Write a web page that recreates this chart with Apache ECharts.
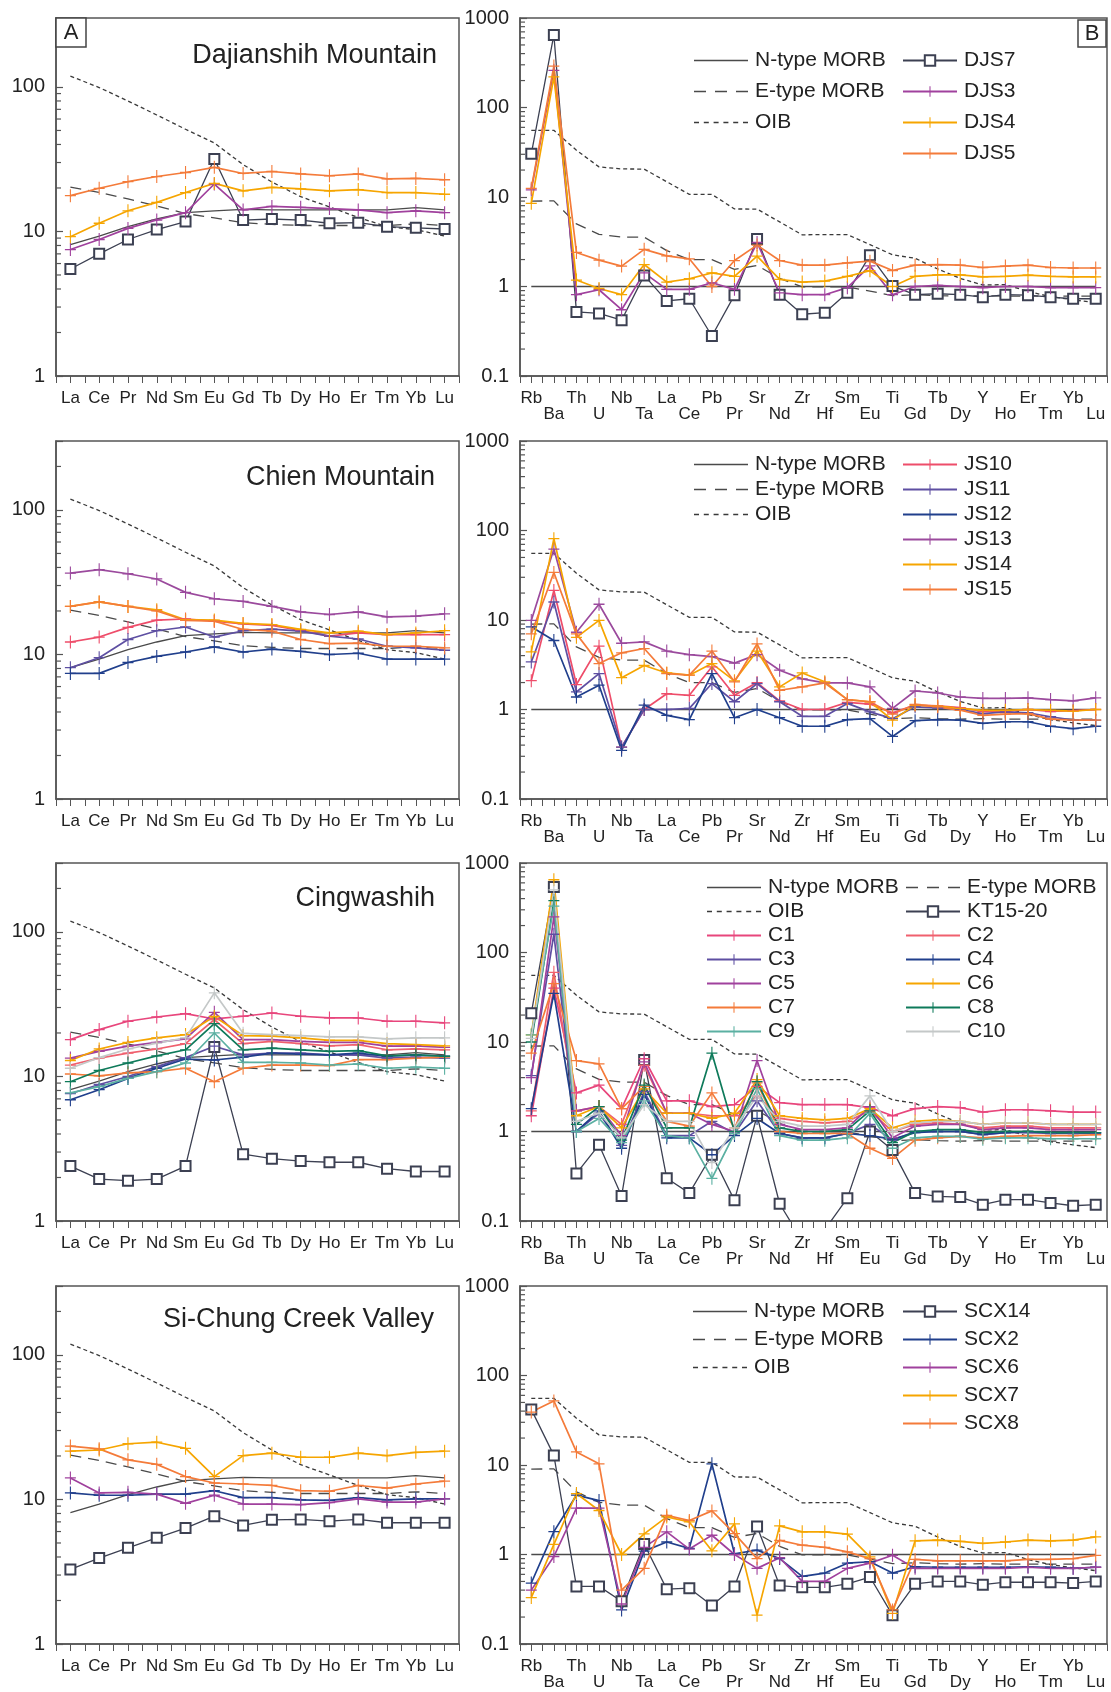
<!DOCTYPE html>
<html>
<head>
<meta charset="utf-8">
<style>
html, body { margin: 0; padding: 0; background: #fff; }
#chart { width: 1111px; height: 1692px; }
</style>
<script src="https://cdn.jsdelivr.net/npm/echarts@6/dist/echarts.min.js"></script>
</head>
<body>
<div id="chart"></div>
<script>
// ---- Element order on the two kinds of diagram ----
const REE = ['La','Ce','Pr','Nd','Sm','Eu','Gd','Tb','Dy','Ho','Er','Tm','Yb','Lu'];
const SPIDER = ['Rb','Ba','Th','U','Nb','Ta','La','Ce','Pb','Pr','Sr','Nd','Zr','Hf','Sm','Eu','Ti','Gd','Tb','Dy','Y','Ho','Er','Tm','Yb','Lu'];

// ---- Reference patterns, chondrite-normalised (REE) ----
const REE_NMORB = [8.1, 9.3, 10.8, 12.2, 13.5, 13.9, 14.2, 14.1, 14.1, 14.1, 14.1, 14.1, 14.6, 14.1];
const REE_EMORB = [20.3, 18.6, 16.8, 15.0, 13.3, 12.4, 11.5, 11.2, 11.0, 11.0, 11.0, 11.0, 11.3, 11.0];
const REE_OIB   = [119, 99, 80, 64, 51, 41, 29, 22, 17.4, 14.8, 12.5, 10.8, 10.3, 9.3];

// ---- Reference patterns, N-MORB-normalised (multi-element) ----
const SP_NMORB = [1,1,1,1,1,1,1,1,1,1,1,1,1,1,1,1,1,1,1,1,1,1,1,1,1,1];
const SP_EMORB = [9.0, 9.05, 5.0, 3.83, 3.56, 3.56, 2.52, 2.0, 2.0, 1.55, 1.72, 1.23, 0.99, 0.99, 0.99, 0.89, 0.79, 0.81, 0.79, 0.78, 0.79, 0.78, 0.78, 0.78, 0.78, 0.78];
const SP_OIB   = [55.4, 55.6, 33.3, 21.7, 20.6, 20.5, 14.8, 10.7, 10.7, 7.35, 7.33, 5.27, 3.78, 3.80, 3.80, 2.94, 2.26, 2.07, 1.57, 1.23, 1.04, 1.05, 0.88, 0.77, 0.71, 0.66];

// ---- Dajianshih Mountain ----
const DJS7_REE = [5.5, 7.0, 8.8, 10.3, 11.7, 31.7, 12.0, 12.2, 12.0, 11.4, 11.5, 10.8, 10.6, 10.4];
const DJS3_REE = [7.5, 8.8, 10.5, 12.0, 13.5, 21.3, 14.1, 14.9, 14.7, 14.4, 14.1, 13.5, 13.9, 13.5];
const DJS4_REE = [9.2, 11.4, 13.9, 15.9, 18.6, 21.5, 19.1, 20.2, 19.7, 19.1, 19.5, 18.6, 18.6, 18.1];
const DJS5_REE = [17.7, 19.9, 22.1, 24.0, 25.6, 27.8, 25.2, 26.0, 25.0, 24.3, 25.0, 23.1, 23.3, 22.8];
const DJS7_SP = [30.4, 646, 0.52, 0.50, 0.42, 1.33, 0.69, 0.73, 0.28, 0.80, 3.4, 0.81, 0.49, 0.51, 0.85, 2.23, 1.01, 0.81, 0.83, 0.81, 0.76, 0.81, 0.80, 0.76, 0.73, 0.73];
const DJS3_SP = [12, 260, 0.81, 0.92, 0.55, 1.42, 0.93, 0.93, 1.1, 0.93, 3.1, 0.85, 0.81, 0.81, 0.97, 1.7, 0.81, 1.0, 1.03, 1.0, 0.97, 1.0, 1.0, 0.97, 0.97, 0.97];
const DJS4_SP = [8.5, 220, 1.18, 0.95, 0.81, 1.76, 1.12, 1.22, 1.42, 1.30, 2.18, 1.2, 1.12, 1.15, 1.30, 1.5, 1.0, 1.30, 1.35, 1.35, 1.28, 1.30, 1.34, 1.30, 1.28, 1.28];
const DJS5_SP = [12.5, 290, 2.4, 1.97, 1.69, 2.6, 2.2, 2.04, 1.0, 1.95, 2.9, 1.95, 1.73, 1.73, 1.84, 1.92, 1.51, 1.73, 1.76, 1.73, 1.63, 1.69, 1.73, 1.63, 1.61, 1.61];

// ---- Chien Mountain ----
const JS10_REE = [12.2, 13.2, 15.4, 17.3, 17.6, 17.0, 16.3, 15.9, 14.7, 13.4, 14.1, 13.7, 13.7, 13.7];
const JS11_REE = [8.1, 9.5, 12.7, 14.6, 15.5, 13.2, 14.6, 15.0, 14.5, 13.4, 12.8, 11.4, 11.1, 10.7];
const JS12_REE = [7.4, 7.4, 8.8, 9.7, 10.4, 11.3, 10.4, 10.9, 10.5, 10.0, 10.2, 9.3, 9.3, 9.3];
const JS13_REE = [36.6, 38.6, 36.2, 33.3, 26.9, 24.3, 23.3, 21.5, 19.7, 18.9, 19.7, 18.2, 18.4, 19.1];
const JS14_REE = [21.5, 23.1, 21.5, 20.4, 17.4, 17.3, 16.4, 16.1, 14.9, 14.1, 14.5, 13.7, 14.1, 14.6];
const JS15_REE = [21.5, 23.1, 21.5, 20.0, 17.2, 17.0, 14.9, 14.5, 12.7, 11.9, 12.0, 11.4, 11.4, 11.1];
const JS10_SP = [2.1, 21.4, 1.9, 5.1, 0.38, 1.0, 1.5, 1.44, 3.0, 1.44, 2.0, 1.25, 1.0, 1.0, 1.2, 1.15, 0.92, 1.12, 1.1, 1.05, 0.95, 0.95, 1.0, 0.95, 0.97, 1.0];
const JS11_SP = [3.4, 15.9, 1.57, 2.52, 0.38, 1.0, 1.0, 1.03, 1.95, 1.22, 1.95, 1.22, 0.84, 0.84, 1.17, 0.94, 0.79, 1.07, 1.04, 1.0, 0.90, 0.94, 0.92, 0.83, 0.76, 0.76];
const JS12_SP = [8.4, 5.9, 1.38, 1.87, 0.35, 1.12, 0.86, 0.77, 2.52, 0.81, 1.0, 0.81, 0.65, 0.65, 0.77, 0.79, 0.50, 0.75, 0.77, 0.76, 0.70, 0.73, 0.73, 0.65, 0.61, 0.65];
const JS13_SP = [9.9, 62, 7.3, 15.0, 5.5, 5.7, 4.5, 4.1, 3.9, 3.3, 4.1, 2.75, 2.2, 1.98, 1.98, 1.79, 1.03, 1.61, 1.53, 1.38, 1.33, 1.33, 1.35, 1.29, 1.25, 1.35];
const JS14_SP = [4.4, 81, 6.4, 9.9, 2.27, 3.1, 2.56, 2.42, 3.26, 2.09, 4.5, 1.79, 2.56, 2.04, 1.29, 1.22, 0.76, 1.12, 1.09, 1.03, 0.98, 0.98, 1.0, 0.98, 0.96, 1.0];
const JS15_SP = [7.0, 34, 7.0, 3.26, 4.3, 4.8, 2.52, 2.42, 4.5, 2.04, 5.4, 1.64, 1.79, 1.98, 1.29, 1.22, 0.89, 1.14, 1.07, 0.98, 0.86, 0.89, 0.9, 0.78, 0.76, 0.76];

// ---- Cingwashih ----
const KT1520_REE = [2.4, 1.95, 1.9, 1.95, 2.4, 16, 2.9, 2.7, 2.6, 2.55, 2.55, 2.3, 2.2, 2.2];
const C1_REE  = [18.0, 21.1, 24.1, 25.8, 27.2, 25.0, 26.1, 27.5, 26.1, 25.4, 25.4, 24.1, 24.1, 23.5];
const C2_REE  = [12.0, 13.4, 14.5, 15.5, 16.9, 24.7, 16.9, 17.5, 16.9, 16.3, 16.6, 15.3, 15.5, 15.3];
const C3_REE  = [7.6, 8.8, 10.0, 11.7, 13.5, 16.2, 14.1, 14.5, 14.5, 14.1, 14.1, 13.4, 13.6, 13.4];
const C4_REE  = [6.9, 8.1, 9.7, 11.4, 13.2, 13.0, 13.6, 14.5, 14.3, 14.1, 14.5, 13.8, 14.1, 13.8];
const C5_REE  = [13.4, 14.9, 16.2, 17.2, 18.2, 27.8, 18.0, 18.0, 17.5, 17.2, 17.2, 16.2, 16.3, 15.9];
const C6_REE  = [12.9, 15.5, 17.2, 18.5, 19.5, 26.0, 19.2, 19.0, 18.5, 17.8, 17.8, 16.9, 16.6, 16.3];
const C7_REE  = [10.4, 10.1, 10.6, 10.8, 11.4, 9.2, 11.4, 12.0, 12.0, 11.9, 13.1, 13.1, 13.4, 13.6];
const C8_REE  = [9.2, 11.0, 12.4, 13.9, 15.3, 23.2, 15.3, 15.7, 15.3, 14.9, 15.1, 13.9, 14.1, 13.8];
const C9_REE  = [7.7, 8.5, 9.7, 10.8, 12.4, 20.0, 12.5, 12.5, 12.4, 12.0, 12.2, 11.4, 11.6, 11.4];
const C10_REE = [11.4, 13.5, 15.5, 17.0, 18.5, 37.9, 19.9, 19.5, 19.2, 18.8, 18.8, 18.2, 18.5, 18.5];
const KT1520_SP = [21, 540, 0.34, 0.71, 0.19, 6.3, 0.30, 0.205, 0.55, 0.17, 1.5, 0.156, 0.06, 0.08, 0.18, 1.0, 0.62, 0.205, 0.188, 0.185, 0.152, 0.173, 0.173, 0.159, 0.148, 0.152];
const C1_SP  = [1.5, 40, 2.7, 3.3, 1.8, 6.5, 2.2, 2.2, 1.9, 2.0, 3.2, 2.1, 2.0, 2.0, 2.0, 1.85, 1.5, 1.8, 1.9, 1.85, 1.65, 1.75, 1.75, 1.7, 1.65, 1.65];
const C2_SP  = [1.7, 60, 1.7, 1.9, 1.2, 5.5, 1.6, 1.6, 1.5, 1.5, 2.5, 1.4, 1.3, 1.25, 1.3, 1.7, 1.0, 1.2, 1.25, 1.2, 1.1, 1.15, 1.15, 1.1, 1.1, 1.1];
const C3_SP  = [4.2, 160, 1.0, 1.6, 0.7, 2.8, 0.9, 0.9, 1.3, 0.95, 2.2, 0.95, 0.85, 0.85, 0.95, 1.2, 0.8, 1.0, 1.0, 1.0, 0.92, 0.97, 0.97, 0.95, 0.95, 0.95];
const C4_SP  = [1.8, 35, 1.0, 1.7, 0.65, 2.6, 0.85, 0.85, 0.55, 0.9, 1.4, 0.95, 0.85, 0.85, 0.95, 0.9, 0.82, 0.97, 1.0, 1.0, 0.93, 0.97, 1.0, 0.97, 0.97, 0.97];
const C5_SP  = [4.0, 250, 1.7, 1.9, 0.9, 6.0, 1.6, 1.6, 1.2, 1.0, 6.2, 1.2, 1.05, 1.05, 1.1, 1.9, 0.85, 1.15, 1.2, 1.2, 1.05, 1.1, 1.1, 1.05, 1.05, 1.05];
const C6_SP  = [12, 650, 1.5, 1.9, 1.1, 3.0, 1.6, 1.6, 1.4, 1.6, 3.8, 1.5, 1.4, 1.35, 1.4, 1.8, 1.1, 1.3, 1.35, 1.3, 1.2, 1.25, 1.25, 1.2, 1.2, 1.2];
const C7_SP  = [7.5, 45, 6.2, 5.7, 1.8, 3.2, 1.3, 1.15, 2.7, 1.1, 3.5, 1.0, 0.95, 0.95, 0.95, 0.65, 0.5, 0.8, 0.85, 0.88, 0.85, 0.88, 0.9, 0.9, 0.9, 0.92];
const C8_SP  = [10, 380, 1.2, 1.9, 0.8, 3.3, 1.1, 1.1, 7.5, 1.0, 3.6, 1.1, 1.0, 1.0, 1.05, 1.7, 0.75, 1.0, 1.05, 1.05, 0.97, 1.0, 1.0, 0.97, 0.97, 0.97];
const C9_SP  = [12, 330, 1.0, 1.4, 0.75, 2.2, 0.9, 0.85, 0.3, 0.95, 3.0, 0.9, 0.8, 0.8, 0.85, 1.6, 0.65, 0.85, 0.88, 0.88, 0.82, 0.85, 0.85, 0.83, 0.83, 0.83];
const C10_SP = [11, 500, 1.3, 1.6, 0.85, 2.0, 1.3, 1.3, 0.45, 1.1, 2.5, 1.3, 1.15, 1.15, 1.2, 2.5, 1.0, 1.25, 1.3, 1.3, 1.2, 1.25, 1.25, 1.2, 1.2, 1.2];

// ---- Si-Chung Creek Valley ----
const SCX14_REE = [3.28, 3.93, 4.63, 5.43, 6.34, 7.67, 6.61, 7.23, 7.28, 7.08, 7.28, 6.90, 6.90, 6.90];
const SCX2_REE  = [11.1, 10.7, 10.7, 10.9, 10.9, 11.5, 10.3, 10.3, 9.95, 9.85, 10.3, 9.95, 10.1, 10.1];
const SCX6_REE  = [14.1, 11.1, 11.2, 10.9, 9.4, 10.7, 9.3, 9.3, 9.2, 9.5, 10.1, 9.6, 9.6, 10.1];
const SCX7_REE  = [21.6, 22.0, 24.3, 24.9, 22.6, 14.4, 20.1, 20.9, 19.6, 19.6, 20.9, 20.1, 21.2, 21.6];
const SCX8_REE  = [23.4, 22.4, 18.8, 17.5, 14.4, 13.0, 12.8, 12.5, 11.5, 11.4, 12.5, 12.0, 12.8, 13.4];
const SCX14_SP = [41.8, 12.8, 0.44, 0.44, 0.30, 1.31, 0.41, 0.42, 0.27, 0.44, 2.05, 0.45, 0.43, 0.43, 0.47, 0.56, 0.21, 0.47, 0.50, 0.50, 0.46, 0.49, 0.49, 0.49, 0.48, 0.50];
const SCX2_SP  = [0.48, 1.8, 4.6, 4.0, 0.24, 1.09, 1.38, 1.17, 10.3, 1.02, 1.12, 0.90, 0.57, 0.62, 0.80, 0.83, 0.62, 0.73, 0.72, 0.72, 0.72, 0.72, 0.73, 0.72, 0.70, 0.72];
const SCX6_SP  = [0.40, 0.95, 3.3, 3.3, 0.28, 1.2, 1.79, 1.15, 1.64, 1.0, 0.7, 0.92, 0.5, 0.5, 0.7, 0.8, 0.98, 0.7, 0.7, 0.7, 0.7, 0.7, 0.72, 0.7, 0.7, 0.72];
const SCX7_SP  = [0.33, 1.3, 4.8, 3.1, 1.0, 1.7, 2.63, 2.31, 1.1, 2.2, 0.21, 2.09, 1.79, 1.79, 1.69, 0.94, 0.22, 1.42, 1.45, 1.4, 1.33, 1.38, 1.45, 1.42, 1.45, 1.57];
const SCX8_SP  = [39, 52, 14, 10.3, 0.40, 0.70, 2.74, 2.4, 3.07, 1.71, 0.9, 1.44, 1.27, 1.2, 1.07, 0.9, 0.24, 0.88, 0.85, 0.85, 0.85, 0.85, 0.88, 0.88, 0.9, 0.98];

// ---- Lookup tables ----
const REE_SETS = {
  DJS7: DJS7_REE, DJS3: DJS3_REE, DJS4: DJS4_REE, DJS5: DJS5_REE,
  JS10: JS10_REE, JS11: JS11_REE, JS12: JS12_REE, JS13: JS13_REE, JS14: JS14_REE, JS15: JS15_REE,
  'KT15-20': KT1520_REE, C1: C1_REE, C2: C2_REE, C3: C3_REE, C4: C4_REE, C5: C5_REE,
  C6: C6_REE, C7: C7_REE, C8: C8_REE, C9: C9_REE, C10: C10_REE,
  SCX14: SCX14_REE, SCX2: SCX2_REE, SCX6: SCX6_REE, SCX7: SCX7_REE, SCX8: SCX8_REE
};
const SP_SETS = {
  DJS7: DJS7_SP, DJS3: DJS3_SP, DJS4: DJS4_SP, DJS5: DJS5_SP,
  JS10: JS10_SP, JS11: JS11_SP, JS12: JS12_SP, JS13: JS13_SP, JS14: JS14_SP, JS15: JS15_SP,
  'KT15-20': KT1520_SP, C1: C1_SP, C2: C2_SP, C3: C3_SP, C4: C4_SP, C5: C5_SP,
  C6: C6_SP, C7: C7_SP, C8: C8_SP, C9: C9_SP, C10: C10_SP,
  SCX14: SCX14_SP, SCX2: SCX2_SP, SCX6: SCX6_SP, SCX7: SCX7_SP, SCX8: SCX8_SP
};

const PANEL_TITLES = ['Dajianshih Mountain', 'Chien Mountain', 'Cingwashih', 'Si-Chung Creek Valley'];
const PANEL_SAMPLES = [
  ['DJS7', 'DJS3', 'DJS4', 'DJS5'],
  ['JS10', 'JS11', 'JS12', 'JS13', 'JS14', 'JS15'],
  ['KT15-20', 'C1', 'C2', 'C3', 'C4', 'C5', 'C6', 'C7', 'C8', 'C9', 'C10'],
  ['SCX14', 'SCX2', 'SCX6', 'SCX7', 'SCX8']
];
const LEGEND_COLUMNS = [
  [['N-type MORB', 'E-type MORB', 'OIB'], ['DJS7', 'DJS3', 'DJS4', 'DJS5']],
  [['N-type MORB', 'E-type MORB', 'OIB'], ['JS10', 'JS11', 'JS12', 'JS13', 'JS14', 'JS15']],
  [['N-type MORB', 'OIB', 'C1', 'C3', 'C5', 'C7', 'C9'], ['E-type MORB', 'KT15-20', 'C2', 'C4', 'C6', 'C8', 'C10']],
  [['N-type MORB', 'E-type MORB', 'OIB'], ['SCX14', 'SCX2', 'SCX6', 'SCX7', 'SCX8']]
];

// ---- Styling ----
const FONT = '"Liberation Sans", Arial, Helvetica, sans-serif';
const INK = '#222';
const AXIS = '#555';
const SAMPLE_COLOR = {
  DJS7: '#3c4052', DJS3: '#a0419d', DJS4: '#f6a500', DJS5: '#f47b3a',
  JS10: '#ee4d6a', JS11: '#5e4fa2', JS12: '#203f8c', JS13: '#9b4a9d', JS14: '#f6a500', JS15: '#f47b3a',
  'KT15-20': '#3c4052', C1: '#e8467c', C2: '#f0606e', C3: '#5e4fa2', C4: '#203f8c', C5: '#a0419d',
  C6: '#f6a500', C7: '#f47b3a', C8: '#0e7a5a', C9: '#5bb0a2', C10: '#c4c8c8',
  SCX14: '#3c4052', SCX2: '#203f8c', SCX6: '#a0419d', SCX7: '#f6a500', SCX8: '#f47b3a'
};
const SQUARE_SAMPLES = ['DJS7', 'KT15-20', 'SCX14'];
const PLUS = 'path://M-0.1,-1L0.1,-1L0.1,-0.1L1,-0.1L1,0.1L0.1,0.1L0.1,1L-0.1,1L-0.1,0.1L-1,0.1L-1,-0.1L-0.1,-0.1Z';
const REF_STYLE = {
  'N-type MORB': { type: 'solid', width: 1.3, color: '#4a4a4a' },
  'E-type MORB': { type: [11, 7], width: 1.3, color: '#4a4a4a' },
  'OIB':         { type: [4, 3], width: 1.3, color: '#3a3a3a' }
};
const REF_ICON = {
  'N-type MORB': 'path://M0,0L54,0L54,1.4L0,1.4Z',
  'E-type MORB': 'path://M0,0L12,0L12,1.4L0,1.4Z M21,0L33,0L33,1.4L21,1.4Z M42,0L54,0L54,1.4L42,1.4Z',
  'OIB': 'path://M0,0L5,0L5,1.4L0,1.4Z M9.8,0L14.8,0L14.8,1.4L9.8,1.4Z M19.6,0L24.6,0L24.6,1.4L19.6,1.4Z M29.4,0L34.4,0L34.4,1.4L29.4,1.4Z M39.2,0L44.2,0L44.2,1.4L39.2,1.4Z M49,0L54,0L54,1.4L49,1.4Z'
};

// ---- Layout ----
const ROW_TOP = [18, 441, 863, 1286];
const PLOT_H = 358;
const LEFT_X = 56, LEFT_W = 403;
const RIGHT_X = 520, RIGHT_W = 587;
const TITLE_Y = [56, 478, 899, 1320];
const TITLE_RIGHT = [437, 435, 435, 434];
const LEGEND_TOP = [50, 454, 877, 1301];
const LEGEND_GAP = [10, 4, 3, 7];
const LEGEND_X = [[694, 902], [694, 902], [706, 905], [693, 902]];

function isWhole(v) { return Math.abs(v - Math.round(v)) < 1e-6; }
function decadeLabel(v) {
  const e = Math.log10(v);
  const r = Math.round(e);
  if (Math.abs(e - r) > 1e-6) return '';
  return r < 0 ? '0.1' : String(Math.round(Math.pow(10, r)));
}
function minorValues(lo, hi) {
  const out = [];
  for (let d = lo; d < hi; d *= 10) {
    for (let k = 2; k <= 9; k++) {
      const v = +(k * d).toPrecision(6);
      if (v < hi) out.push(v);
    }
  }
  return out;
}
function pairs(values) { return values.map((v, i) => [i + 1, v]); }

const grids = [], xAxes = [], yAxes = [], series = [], legends = [], graphics = [];

function addPanel(gi, isRee, row) {
  const cats = isRee ? REE : SPIDER;
  const yMin = isRee ? 1 : 0.1, yMax = isRee ? 300 : 1000;
  grids.push({
    left: isRee ? LEFT_X : RIGHT_X, top: ROW_TOP[row],
    width: isRee ? LEFT_W : RIGHT_W, height: PLOT_H,
    show: true, borderColor: AXIS, borderWidth: 1.5, backgroundColor: '#fff',
    containLabel: false, outerBoundsMode: 'none'
  });
  xAxes.push({
    type: 'value', gridIndex: gi, min: 0.5, max: cats.length + 0.5, interval: 0.5,
    axisLine: { show: true, onZero: false, lineStyle: { color: AXIS, width: 1.5 } },
    axisTick: { show: true, inside: false, length: 7, lineStyle: { color: AXIS, width: 1 } },
    splitLine: { show: false },
    axisLabel: {
      show: true, margin: 14, fontSize: 17, lineHeight: 16, color: INK, fontFamily: FONT,
      formatter: function (v) {
        if (!isWhole(v)) return '';
        const i = Math.round(v) - 1;
        if (i < 0 || i >= cats.length) return '';
        if (isRee) return cats[i];
        return i % 2 === 0 ? cats[i] : '\n' + cats[i];
      }
    }
  });
  yAxes.push({
    type: 'log', logBase: 10, gridIndex: gi, min: yMin, max: yMax,
    axisLine: { show: true, onZero: false, lineStyle: { color: AXIS, width: 1.5 } },
    axisTick: { show: true, inside: true, length: 7, lineStyle: { color: AXIS, width: 1.2 } },
    splitLine: { show: false },
    axisLabel: { margin: 11, fontSize: 20, color: INK, fontFamily: FONT, formatter: decadeLabel }
  });

  // minor log ticks along the left axis
  series.push({
    type: 'custom', xAxisIndex: gi, yAxisIndex: gi, silent: true, animation: false, z: 5,
    data: minorValues(yMin, yMax).map(v => [0.5, v]),
    renderItem: function (params, api) {
      const p = api.coord([0.5, api.value(1)]);
      return { type: 'line', shape: { x1: p[0], y1: p[1], x2: p[0] + 5, y2: p[1] },
               style: { stroke: AXIS, lineWidth: 1.2 } };
    }
  });

  // reference patterns
  const refs = isRee
    ? [['N-type MORB', REE_NMORB], ['E-type MORB', REE_EMORB], ['OIB', REE_OIB]]
    : [['N-type MORB', SP_NMORB], ['E-type MORB', SP_EMORB], ['OIB', SP_OIB]];
  refs.forEach(([name, vals]) => {
    const st = REF_STYLE[name];
    series.push({
      type: 'line', name: name, xAxisIndex: gi, yAxisIndex: gi,
      data: pairs(vals), symbol: 'none', animation: false, silent: true, z: 2,
      lineStyle: { color: st.color, width: (!isRee && name === 'N-type MORB') ? 1.6 : st.width, type: st.type },
      itemStyle: { color: st.color }
    });
  });

  // samples
  PANEL_SAMPLES[row].forEach(name => {
    const color = SAMPLE_COLOR[name];
    const square = SQUARE_SAMPLES.includes(name);
    series.push({
      type: 'line', name: name, xAxisIndex: gi, yAxisIndex: gi,
      data: pairs(isRee ? REE_SETS[name] : SP_SETS[name]),
      symbol: square ? 'emptyRect' : PLUS,
      symbolSize: square ? 10 : [11, 13],
      showSymbol: true, clip: true, animation: false, silent: true, z: 3,
      lineStyle: { color: color, width: square ? 1.3 : 1.7 },
      itemStyle: { color: color, borderColor: color, borderWidth: square ? 1.3 : 0 }
    });
  });
}

for (let row = 0; row < 4; row++) {
  addPanel(row * 2, true, row);
  addPanel(row * 2 + 1, false, row);

  graphics.push({
    type: 'text', silent: true, z: 10,
    style: { text: PANEL_TITLES[row], x: TITLE_RIGHT[row], y: TITLE_Y[row],
             align: 'right', verticalAlign: 'middle', textAlign: 'right', textVerticalAlign: 'middle',
             font: '27px ' + FONT, fill: INK }
  });

  LEGEND_COLUMNS[row].forEach((names, c) => {
    legends.push({
      orient: 'vertical', left: LEGEND_X[row][c], top: LEGEND_TOP[row], padding: 0,
      itemGap: LEGEND_GAP[row], itemWidth: 54, itemHeight: 13, selectedMode: false,
      textStyle: { fontSize: 21, lineHeight: 20, color: INK, fontFamily: FONT, padding: [0, 0, 0, 2] },
      data: names.map(n => REF_ICON[n] ? { name: n, icon: REF_ICON[n] } : { name: n })
    });
  });
}

// panel letters
graphics.push(
  { type: 'rect', z: 10, silent: true, shape: { x: 56, y: 18, width: 30, height: 29 },
    style: { fill: '#fff', stroke: '#444', lineWidth: 1.5 } },
  { type: 'text', z: 11, silent: true,
    style: { text: 'A', x: 71, y: 33, align: 'center', verticalAlign: 'middle', textAlign: 'center', textVerticalAlign: 'middle',
             font: '22px ' + FONT, fill: INK } },
  { type: 'rect', z: 10, silent: true, shape: { x: 1078, y: 20, width: 28, height: 27 },
    style: { fill: '#fff', stroke: '#444', lineWidth: 1.5 } },
  { type: 'text', z: 11, silent: true,
    style: { text: 'B', x: 1092, y: 34, align: 'center', verticalAlign: 'middle', textAlign: 'center', textVerticalAlign: 'middle',
             font: '22px ' + FONT, fill: INK } }
);

const chart = echarts.init(document.getElementById('chart'), null, { renderer: 'canvas' });
chart.setOption({
  backgroundColor: '#fff',
  animation: false,
  textStyle: { fontFamily: FONT },
  grid: grids,
  xAxis: xAxes,
  yAxis: yAxes,
  legend: legends,
  series: series,
  graphic: graphics
});
</script>
</body>
</html>
